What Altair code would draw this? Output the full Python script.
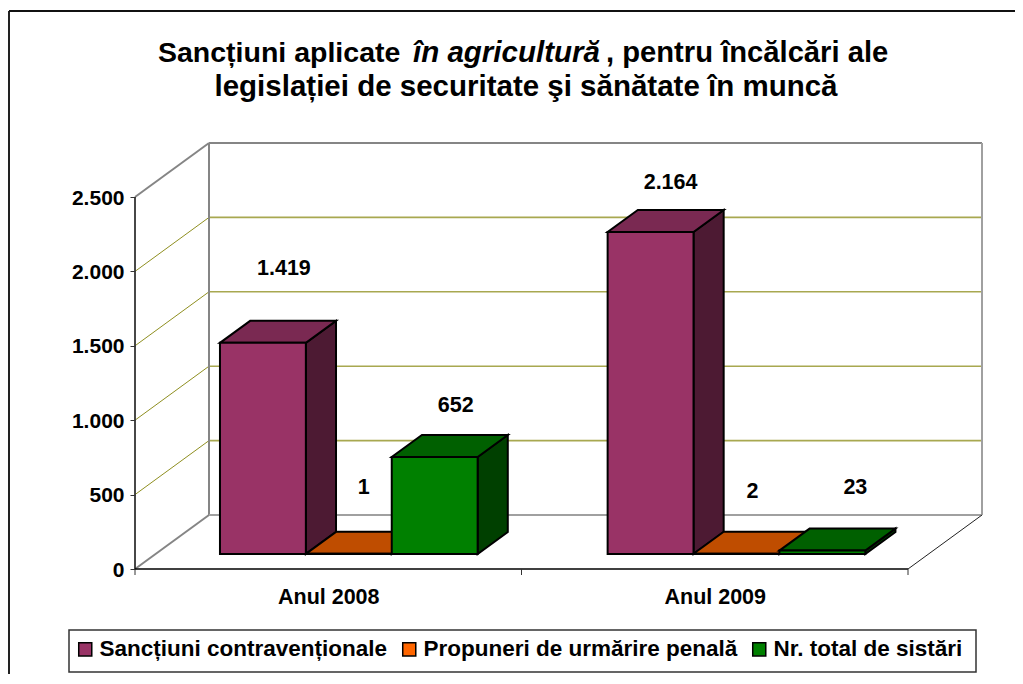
import altair as alt
import pandas as pd

# ---- data
CATEGORIES = ["Anul 2008", "Anul 2009"]
SERIES = ["Sancțiuni contravenționale", "Propuneri de urmărire penală", "Nr. total de sistări"]
VALUES_2008 = [1419, 1, 652]
VALUES_2009 = [2164, 2, 23]
AXIS_TICKS = [0, 500, 1000, 1500, 2000, 2500]
VALUE_LABELS_2008 = ["1.419", "1", "652"]
VALUE_LABELS_2009 = ["2.164", "2", "23"]

# ---- styling
FRONT = ["#993366", "#FF6600", "#008000"]
TOP = ["#7A2952", "#BF4D00", "#006000"]
SIDE = ["#4D1A33", "#802000", "#004000"]
FONT = "Liberation Sans"

# ---- projection of the 3-D look, in scale units
PLOT_W, PLOT_H = 847, 427
PX_PER_CAT = 386.5
PX_PER_VAL = 0.1488
DEPTH_X = 74 / PX_PER_CAT      # horizontal shift of the back wall
DEPTH_V = 54 / PX_PER_VAL      # vertical shift of the back wall
BAR_D0, BAR_D1 = 15 / 54, 37 / 54
BAR_W = 2 / 9
GROUP_STEP = 1.003
X_DOMAIN = [0, PLOT_W / PX_PER_CAT]
Y_DOMAIN = [0, PLOT_H / PX_PER_VAL]

LABEL_DX = [21, 15, 21, 20, 16, 33]
LABEL_DY = [-74, -66, -51, -49, -62, -63]

x_scale = alt.Scale(domain=X_DOMAIN, nice=False, zero=False)
y_scale = alt.Scale(domain=Y_DOMAIN, nice=False, zero=False)

# axes: labels and ticks come from real axes
axis_x = alt.Axis(
    values=[0.5, 1.5],
    labelExpr=f"datum.value < 1 ? '{CATEGORIES[0]}' : '{CATEGORIES[1]}'",
    ticks=False, domain=False, grid=False,
    labelFont=FONT, labelFontSize=21.5, labelFontWeight="bold", labelColor="black",
    labelPadding=17, labelAngle=0,
)
axis_y = alt.Axis(
    values=AXIS_TICKS,
    labelExpr="replace(format(datum.value, ','), ',', '.')",
    domain=False, grid=False, tickColor="#333333", tickSize=5, tickWidth=1,
    labelFont=FONT, labelFontSize=21, labelFontWeight="bold", labelColor="black",
    labelPadding=6, labelOffset=1,
)


def X(f="x"):
    return alt.X(f"{f}:Q", scale=x_scale, axis=axis_x, title=None)


def Y(f="y"):
    return alt.Y(f"{f}:Q", scale=y_scale, axis=axis_y, title=None)


def seg(name, pts):
    return pd.DataFrame(
        [{"id": name, "o": i, "x": c + d * DEPTH_X, "y": v + d * DEPTH_V} for i, (c, v, d) in enumerate(pts)]
    )


def lines(pts_list, color, width):
    df = pd.concat([seg(i, p) for i, p in enumerate(pts_list)])
    return alt.Chart(df).mark_line(color=color, strokeWidth=width, clip=False).encode(
        x=X(), y=Y(), detail="id:N", order="o:Q"
    )


TOP_V = AXIS_TICKS[-1]
layers = []

# walls and gridlines
for v in AXIS_TICKS[1:-1]:
    layers.append(lines([[(0, v, 0), (0, v, 1)]], "#8F8F20", 1))
    layers.append(lines([[(0, v, 1), (2, v, 1)]], "#A8A850", 1.6))
layers.append(lines([[(0, TOP_V, 0), (0, TOP_V, 1)], [(0, TOP_V, 1), (2, TOP_V, 1)],
                     [(0, 0, 1), (0, TOP_V, 1)], [(0, 0, 0), (0, 0, 1)]], "#858585", 2))
layers.append(lines([[(0, 0, 1), (2, 0, 1)], [(2, 0, 1), (2, TOP_V, 1)]], "#A0A0A0", 2))
layers.append(lines([[(2, 0, 0), (2, 0, 1)]], "#222222", 1))

# bars: side, top and front of each one, from left to right
values = [VALUES_2008, VALUES_2009]
texts = [VALUE_LABELS_2008, VALUE_LABELS_2009]
label_rows = []
k = 0
SW = 2
for c, vals in enumerate(values):
    for s, v in enumerate(vals):
        x0 = c * GROUP_STEP + 1 / 6 + s * BAR_W
        x1 = x0 + BAR_W
        b0 = BAR_D0 * DEPTH_V
        b1 = BAR_D1 * DEPTH_V
        sx0 = BAR_D0 * DEPTH_X
        sx1 = BAR_D1 * DEPTH_X
        side = pd.DataFrame({"x": [x1 + sx0, x1 + sx1], "y": [b0 + v, b1 + v], "y2": [b0, b1]})
        top = pd.DataFrame({"y": [b0 + v, b1 + v], "x": [x0 + sx0, x0 + sx1], "x2": [x1 + sx0, x1 + sx1]})
        front = pd.DataFrame({"x": [x0 + sx0], "x2": [x1 + sx0], "y": [b0 + v], "y2": [b0], "serie": [SERIES[s]]})
        layers.append(alt.Chart(side).mark_area(color=SIDE[s], stroke="black", strokeWidth=SW, clip=False).encode(
            x=X(), y=Y(), y2="y2:Q"))
        layers.append(alt.Chart(top).mark_area(color=TOP[s], stroke="black", strokeWidth=SW, clip=False, orient="horizontal").encode(
            y=Y(), x=X(), x2="x2:Q"))
        layers.append(alt.Chart(front).mark_rect(stroke="black", strokeWidth=SW, clip=False).encode(
            x=X(), x2="x2:Q", y=Y(), y2="y2:Q",
            color=alt.Color("serie:N", scale=alt.Scale(domain=SERIES, range=FRONT), sort=SERIES, title=None,
                            legend=alt.Legend(
                                orient="none", legendX=-61, legendY=496, direction="horizontal", columns=3,
                                title=None, symbolType="square", symbolSize=170, symbolStrokeColor="black",
                                symbolStrokeWidth=1.5, symbolOpacity=1,
                                labelFont=FONT, labelFontSize=22.5, labelFontWeight="bold", labelColor="black",
                                labelLimit=400, columnPadding=10, labelOffset=3, padding=0,
                            ))))
        label_rows.append({
            "x": x0 + sx0 + BAR_W / 2 + LABEL_DX[k] / PX_PER_CAT,
            "y": b0 + v - LABEL_DY[k] / PX_PER_VAL,
            "t": texts[c][s],
        })
        k += 1

# value labels
layers.append(alt.Chart(pd.DataFrame(label_rows)).mark_text(
    font=FONT, fontSize=21.5, fontWeight="bold", color="black", baseline="middle", align="center", clip=False
).encode(x=X(), y=Y(), text="t:N"))

# front axis lines
layers.append(lines([[(0, 0, 0), (0, TOP_V, 0)]], "#333333", 1.8))
layers.append(lines([[(0, 0, 0), (2, 0, 0)]], "#000000", 1.5))
tick_df = pd.DataFrame({"x": [0, 1, 2]})
layers.append(alt.Chart(tick_df).mark_rule(color="#333333", strokeWidth=1).encode(
    x=X(), y=alt.value(PLOT_H), y2=alt.value(PLOT_H + 6)))

# outer frame (only its top and left edge fall inside the window)
one = pd.DataFrame({"a": [0]})
frame_l = alt.Chart(one).mark_rule(color="#222222", strokeWidth=2).encode(
    x=alt.value(-126), y=alt.value(-131), y2=alt.value(560))
frame_t = alt.Chart(one).mark_rule(color="#111111", strokeWidth=2).encode(
    x=alt.value(-126), x2=alt.value(900), y=alt.value(-131))
legend_box = alt.Chart(one).mark_rect(fill="white", stroke="#333333", strokeWidth=1.5).encode(
    x=alt.value(69 - 135), x2=alt.value(976 - 135), y=alt.value(630 - 142), y2=alt.value(672 - 142))
layers += [frame_l, frame_t, legend_box]

# title: several text marks because one word group is italic
TITLE_A = "Sancțiuni aplicate"
TITLE_B = "în agricultură"
TITLE_C = ", pentru încălcări ale"
TITLE_2 = "legislației de securitate şi sănătate în muncă"


def title_text(txt, px, py, size, align="left", style="normal"):
    return alt.Chart(pd.DataFrame({"t": [txt]})).mark_text(
        font=FONT, fontSize=size, fontWeight="bold", fontStyle=style, color="black", align=align, baseline="middle"
    ).encode(x=alt.value(px), y=alt.value(py), text="t:N")


layers += [
    title_text(TITLE_A, 158 - 135, 53 - 142, 28.5),
    title_text(TITLE_B, 413 - 135, 53 - 142, 29.5, style="italic"),
    title_text(TITLE_C, 606 - 135, 53 - 142, 29.2),
    title_text(TITLE_2, 526 - 135, 87 - 142, 29.5, align="center"),
]

chart = alt.layer(*layers).properties(
    width=PLOT_W,
    height=PLOT_H,
    padding={"left": 127, "top": 134, "right": 33, "bottom": 105},
    autosize=alt.AutoSizeParams(type="none"),
    background="white",
).configure_view(stroke=None)

chart.save("out.html", embed_options={"renderer": "svg", "actions": False})
